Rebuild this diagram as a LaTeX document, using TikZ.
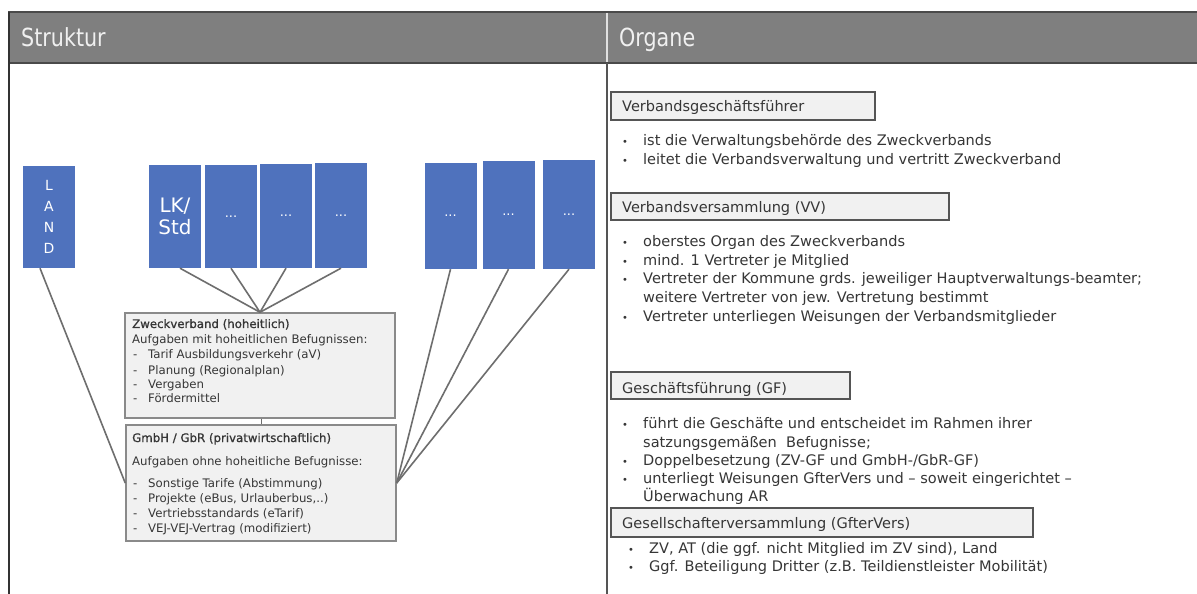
\documentclass[tikz,border=0pt]{standalone}
\usepackage{fontspec}
\setmainfont{DejaVu Sans}
\newfontfamily\medfont[FakeBold=1]{DejaVu Sans}
\definecolor{hdrfill}{HTML}{7F7F7F}
\definecolor{hdrline}{HTML}{4A4A4A}
\definecolor{framec}{HTML}{333333}
\definecolor{bluebox}{HTML}{4F72BD}
\definecolor{connc}{HTML}{6E6E6E}
\definecolor{boxfill}{HTML}{F1F1F1}
\definecolor{boxline}{HTML}{8A8A8A}
\definecolor{orgline}{HTML}{555555}
\definecolor{txtc}{HTML}{363636}
\tikzset{
  blue box/.style={fill=bluebox, inner sep=0pt, minimum width=52bp, text=white, align=center},
  gray box/.style={fill=boxfill, draw=boxline, line width=1.5bp, inner sep=0pt},
  org box/.style={fill=boxfill, draw=orgline, line width=1.5bp, inner sep=0pt},
  conn/.style={draw=connc, line width=1.6bp},
  hdrtxt/.style={anchor=base west, inner sep=0pt, text=white!94!black, font=\fontsize{25}{28}\selectfont},
  txt/.style={anchor=base west, inner sep=0pt, text=txtc, font=\fontsize{14.6}{18}\selectfont},
  stxt/.style={anchor=base west, inner sep=0pt, text=txtc, font=\fontsize{11.8}{14}\selectfont},
  btxt/.style={anchor=base west, inner sep=0pt, text=txtc, font=\fontsize{10}{10}\selectfont},
}
\newcommand{\myBul}[4]{\node[btxt] (#1b) at (#2,#3) {•};\node[txt] (#1) at (#2+21,#3) {#4};}
\newcommand{\myCont}[4]{\node[txt] (#1) at (#2+21,#3) {#4};}
\newcommand{\myDash}[3]{\node[stxt] (#1d) at (133,#2) {-};\node[stxt] (#1) at (148,#2) {#3};}
\begin{document}
\begin{tikzpicture}[x=1bp,y=-1bp]
\useasboundingbox (0,0) rectangle (1197,594);
\fill[white] (0,0) rectangle (1197,594);
% header
\filldraw[fill=hdrfill, draw=hdrline, line width=1.5bp] (9,12) rectangle (1200,63);
\draw[white!88!black, line width=1.5bp] (607,13) -- (607,62);
\draw[framec, line width=2.2bp] (9,12) -- (9,594);
\draw[orgline, line width=1.5bp] (607,63) -- (607,594);
\node[hdrtxt] (hstruktur) at (21,47) {\scalebox{0.83}[1]{Struktur}};
\node[hdrtxt] (horgane) at (619,47) {\scalebox{0.83}[1]{Organe}};

% blue boxes
\node[blue box, minimum height=102bp, font=\fontsize{14}{21}\selectfont] (land) at (49,217) {L\\A\\N\\D};
\node[blue box, minimum height=103bp, font=\fontsize{20}{22}\selectfont] (lk) at (175,216.5) {LK/\\Std};
\node[blue box, minimum height=103bp, font=\fontsize{13}{14}\selectfont] (b2) at (231,216.5) {...};
\node[blue box, minimum height=104bp, font=\fontsize{13}{14}\selectfont] (b3) at (286,216) {...};
\node[blue box, minimum height=105bp, font=\fontsize{13}{14}\selectfont] (b4) at (341,215.5) {...};
\node[blue box, minimum height=106bp, font=\fontsize{13}{14}\selectfont] (b5) at (450.5,216) {...};
\node[blue box, minimum height=108bp, font=\fontsize{13}{14}\selectfont] (b6) at (508.5,215) {...};
\node[blue box, minimum height=109bp, font=\fontsize{13}{14}\selectfont] (b7) at (569,214.5) {...};

% gray boxes
\node[gray box, minimum width=270bp, minimum height=105bp] (zv) at (260,365.5) {};
\node[gray box, minimum width=270bp, minimum height=116bp] (gmbh) at (261,483) {};

% connectors
\draw[conn] ([xshift=5bp]lk.south) -- (zv.north);
\draw[conn] (b2.south) -- (zv.north);
\draw[conn] (b3.south) -- (zv.north);
\draw[conn] (b4.south) -- (zv.north);
\draw[conn] ([xshift=-9bp]land.south) -- (gmbh.west);
\draw[conn] (b5.south) -- (gmbh.east);
\draw[conn] (b6.south) -- (gmbh.east);
\draw[conn] (b7.south) -- (gmbh.east);
\draw[conn, line width=1bp] ([xshift=1bp]zv.south) -- (gmbh.north);

% ZV text
\node[stxt, font=\medfont\fontsize{11.8}{14}\selectfont] (zvt) at (132,328) {Zweckverband (hoheitlich)};
\node[stxt] (zva) at (132,344) {Aufgaben mit hoheitlichen Befugnissen:};
\myDash{zv1}{359}{Tarif Ausbildungsverkehr (aV)}
\myDash{zv2}{374}{Planung (Regionalplan)}
\myDash{zv3}{388}{Vergaben}
\myDash{zv4}{402.5}{Fördermittel}

% GmbH text
\node[stxt, font=\medfont\fontsize{11.8}{14}\selectfont] (gmt) at (132,442) {GmbH / GbR (privatwirtschaftlich)};
\node[stxt] (gma) at (132,465) {Aufgaben ohne hoheitliche Befugnisse:};
\myDash{gm1}{487}{Sonstige Tarife (Abstimmung)}
\myDash{gm2}{502}{Projekte (eBus, Urlauberbus,..)}
\myDash{gm3}{517}{Vertriebsstandards (eTarif)}
\myDash{gm4}{532}{VEJ-VEJ-Vertrag (modifiziert)}

% Organe
\node[org box, minimum width=264bp, minimum height=28bp] (vg) at (743,106) {};
\node[txt] (vgt) at (622,112) {Verbandsgeschäftsführer};
\myBul{vg1}{622}{146}{ist die Verwaltungsbehörde des Zweckverbands}
\myBul{vg2}{622}{164.5}{leitet die Verbandsverwaltung und vertritt Zweckverband}

\node[org box, minimum width=338bp, minimum height=27bp] (vv) at (780,206.5) {};
\node[txt] (vvt) at (622,213) {Verbandsversammlung (VV)};
\myBul{vv1}{622}{247}{oberstes Organ des Zweckverbands}
\myBul{vv2}{622}{265.5}{mind. 1 Vertreter je Mitglied}
\myBul{vv3}{622}{284}{Vertreter der Kommune grds. jeweiliger Hauptverwaltungs-beamter;}
\myCont{vv3c}{622}{303}{weitere Vertreter von jew. Vertretung bestimmt}
\myBul{vv4}{622}{322}{Vertreter unterliegen Weisungen der Verbandsmitglieder}

\node[org box, minimum width=239bp, minimum height=27bp] (gf) at (730.5,385.5) {};
\node[txt] (gft) at (622,393) {Geschäftsführung (GF)};
\myBul{gf1}{622}{428}{führt die Geschäfte und entscheidet im Rahmen ihrer}
\myCont{gf1c}{622}{447}{satzungsgemäßen\ \ Befugnisse;}
\myBul{gf2}{622}{465}{Doppelbesetzung (ZV-GF und GmbH-/GbR-GF)}
\myBul{gf3}{622}{483}{unterliegt Weisungen GfterVers und – soweit eingerichtet –}
\myCont{gf3c}{622}{501}{Überwachung AR}

\node[org box, minimum width=422bp, minimum height=29bp] (gv) at (822,522.5) {};
\node[txt] (gvt) at (622,528) {Gesellschafterversammlung (GfterVers)};
\myBul{gv1}{628}{553}{ZV, AT (die ggf. nicht Mitglied im ZV sind), Land}
\myBul{gv2}{628}{571.5}{Ggf. Beteiligung Dritter (z.B. Teildienstleister Mobilität)}
\end{tikzpicture}
\end{document}
